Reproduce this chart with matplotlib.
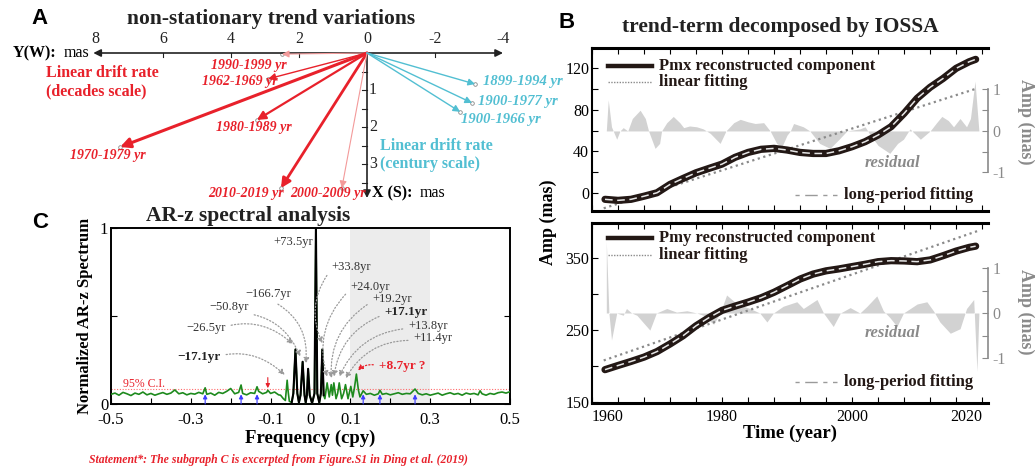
import numpy as np
import matplotlib
matplotlib.use('Agg')
import matplotlib.pyplot as plt

plt.rcParams['font.family'] = ['Liberation Serif', 'DejaVu Serif']
plt.rcParams['axes.unicode_minus'] = False

W, H = 1035, 468

# ---------------- data ----------------
# panel A: linear drift rate vectors, Y(W) and X(S) in mas
decade_periods = ['1990-1999 yr', '1962-1969 yr', '1980-1989 yr',
                  '1970-1979 yr', '2010-2019 yr', '2000-2009 yr']
decade_yw = [2.50, 2.91, 3.24, 7.26, 2.53, 0.74]
decade_xs = [0.03, 0.70, 1.81, 2.54, 3.65, 3.65]
century_periods = ['1899-1994 yr', '1900-1977 yr', '1900-1966 yr']
century_yw = [-3.18, -3.09, -2.74]
century_xs = [0.84, 1.35, 1.59]
yw_ticks = [8, 6, 4, 2, 0, -2, -4]
xs_ticks = [1, 2, 3]

# panel C: normalized AR-z spectrum
freq = [-0.50, -0.49, -0.48, -0.47, -0.46, -0.45, -0.44, -0.43, -0.42, -0.41,
        -0.40, -0.39, -0.38, -0.37, -0.36, -0.35, -0.34, -0.33, -0.32, -0.31,
        -0.30, -0.29, -0.28, -0.27, -0.264, -0.26, -0.25, -0.24, -0.23, -0.22,
        -0.21, -0.20, -0.19, -0.18, -0.174, -0.17, -0.16, -0.15, -0.14, -0.134,
        -0.13, -0.12, -0.11, -0.107, -0.10, -0.09, -0.08,
        -0.075, -0.068, -0.063, -0.061, -0.0585, -0.056, -0.053, -0.047, -0.043,
        -0.0377, -0.033, -0.029, -0.025, -0.0197, -0.015, -0.012, -0.009, -0.006,
        -0.002, 0.004, 0.010, 0.0136, 0.017, 0.022, 0.026, 0.0296, 0.033, 0.036,
        0.0417, 0.047, 0.052, 0.055, 0.0585, 0.064, 0.068, 0.072, 0.078, 0.083,
        0.0877, 0.094, 0.101, 0.106, 0.110, 0.115, 0.120, 0.124,
        0.132, 0.14, 0.15, 0.16, 0.17, 0.174, 0.18, 0.19, 0.20, 0.21,
        0.22, 0.23, 0.24, 0.25, 0.262, 0.27, 0.28, 0.29, 0.30, 0.31,
        0.32, 0.33, 0.34, 0.35, 0.36, 0.37, 0.38, 0.39, 0.40, 0.41,
        0.42, 0.425, 0.43, 0.44, 0.45, 0.46, 0.47, 0.48, 0.49, 0.50]
spec = [0.055, 0.062, 0.050, 0.066, 0.058, 0.048, 0.062, 0.055, 0.068, 0.052,
        0.060, 0.050, 0.058, 0.065, 0.055, 0.062, 0.080, 0.058, 0.064, 0.052,
        0.060, 0.056, 0.066, 0.058, 0.092, 0.055, 0.062, 0.050, 0.066, 0.060,
        0.072, 0.088, 0.058, 0.066, 0.108, 0.060, 0.052, 0.064, 0.060, 0.098,
        0.072, 0.058, 0.066, 0.078, 0.060, 0.068, 0.052,
        0.050, 0.030, 0.020, 0.070, 0.135, 0.070, 0.015, 0.010, 0.060,
        0.310, 0.060, 0.008, 0.050, 0.240, 0.050, 0.008, 0.050, 0.200,
        0.050, 0.005, 0.060, 1.000, 0.060, 0.008, 0.060, 0.310, 0.050, 0.030,
        0.120, 0.040, 0.110, 0.050, 0.120, 0.030, 0.060, 0.120, 0.030, 0.060,
        0.110, 0.030, 0.100, 0.040, 0.090, 0.170, 0.080, 0.040,
        0.075, 0.055, 0.060, 0.050, 0.058, 0.078, 0.055, 0.060, 0.052, 0.058,
        0.064, 0.055, 0.060, 0.058, 0.085, 0.060, 0.052, 0.058, 0.050, 0.056,
        0.062, 0.050, 0.058, 0.064, 0.055, 0.060, 0.050, 0.062, 0.056, 0.060,
        0.052, 0.075, 0.058, 0.050, 0.060, 0.055, 0.064, 0.068, 0.062, 0.070]
ci95 = 0.085
peak_labels = ['+73.5yr', '\u2212166.7yr', '\u221250.8yr', '\u221226.5yr', '\u221217.1yr',
               '+33.8yr', '+24.0yr', '+19.2yr', '+17.1yr', '+13.8yr', '+11.4yr']
peak_freq = [0.0136, -0.006, -0.0197, -0.0377, -0.0585,
             0.0296, 0.0417, 0.052, 0.0585, 0.072, 0.0877]
peak_top = [1.0, 0.20, 0.24, 0.31, 0.135, 0.31, 0.12, 0.11, 0.12, 0.12, 0.11]
extra_peak_freq = 0.115
extra_peak_top = 0.17
red_mark_freq = -0.107
blue_mark_freq = [-0.264, -0.174, -0.134, 0.132, 0.174, 0.262]

# panel B: IOSSA trend terms (mas)
years = [1962, 1964, 1966, 1968, 1970, 1972, 1974, 1976, 1978, 1980,
         1982, 1984, 1986, 1988, 1990, 1992, 1994, 1996, 1998, 2000,
         2002, 2004, 2006, 2008, 2010, 2012, 2014, 2016, 2018, 2019]
pmx = [-6.0, -7.0, -6.0, -3.0, 0.3, 8.3, 14.0, 19.5, 23.7, 27.8,
       34.3, 39.0, 42.0, 42.9, 41.3, 39.0, 38.0, 38.0, 40.6, 44.5,
       49.3, 55.7, 63.7, 76.5, 90.9, 101.5, 110.0, 119.7, 126.0, 128.3]
pmy = [195.2, 201.0, 206.6, 212.6, 220.3, 230.8, 242.2, 256.0, 267.4, 277.4,
       283.3, 288.8, 294.8, 302.5, 311.6, 320.8, 327.7, 332.2, 334.9, 338.1,
       341.3, 344.9, 346.3, 345.9, 344.9, 347.3, 353.2, 359.6, 364.7, 366.4]
lin_years = [1961.8, 2019.3]
pmx_lin = [-14.6, 100.6]
pmy_lin = [208.0, 387.4]

res_x_years = [1962.2, 1962.5, 1963.0, 1963.8, 1964.3, 1964.8, 1965.5, 1966.2, 1967.4, 1968.2,
               1968.7, 1969.7, 1970.4, 1970.7, 1971.5, 1972.5, 1973.5, 1974.1, 1975.0, 1976.1,
               1977.1, 1978.2, 1979.7, 1980.6, 1981.8, 1982.8, 1984.0, 1985.1, 1986.4, 1987.4,
               1988.4, 1989.2, 1990.0, 1990.5, 1991.0, 1992.5, 1993.5, 1995.0, 1996.6, 1998.0,
               1999.2, 2001.2, 2002.0, 2002.8, 2004.0, 2005.8, 2007.0, 2007.9, 2008.9, 2010.5,
               2012.0, 2013.0, 2013.8, 2014.8, 2015.6, 2016.6, 2017.6, 2018.2, 2018.9, 2019.5]
res_x = [0.0, 0.75, 0.1, -0.2, 0.0, 0.08, 0.0, 0.3, 0.5, 0.3,
         0.0, -0.42, -0.3, 0.0, 0.2, 0.35, 0.2, 0.08, 0.12, 0.1,
         0.05, -0.06, -0.3, 0.0, 0.2, 0.28, 0.22, 0.18, 0.2, 0.0,
         -0.3, -0.38, -0.1, 0.0, 0.18, 0.1, 0.0, -0.3, -0.42, -0.2,
         0.0, 0.05, 0.1, -0.1, -0.35, -0.54, -0.3, -0.2, 0.05, -0.2,
         0.0, 0.2, 0.35, 0.25, 0.1, 0.3, 0.1, 0.3, 1.2, 0.0]
res_y_years = [1962.2, 1962.6, 1963.0, 1963.8, 1964.8, 1965.3, 1966.1, 1966.9, 1968.9, 1969.9,
               1971.5, 1973.0, 1974.6, 1976.1, 1977.1, 1978.7, 1979.7, 1980.7, 1982.3, 1984.3,
               1985.8, 1986.9, 1987.9, 1989.4, 1991.5, 1992.5, 1994.6, 1995.6, 1997.1, 1998.2,
               1999.7, 2001.2, 2002.3, 2003.8, 2004.8, 2005.8, 2006.9, 2007.9, 2010.0, 2011.5,
               2012.5, 2013.5, 2015.1, 2016.6, 2017.6, 2018.7, 2019.2, 2019.5]
res_y = [1.6, 0.0, -0.6, 0.0, -0.05, 0.1, 0.0, -0.05, -0.38, 0.0,
         0.1, 0.02, 0.05, 0.0, -0.05, -0.25, 0.0, 0.4, 0.2, 0.1,
         0.0, -0.2, 0.0, 0.15, 0.25, 0.1, 0.3, 0.0, -0.3, 0.0,
         0.12, 0.0, 0.15, 0.38, 0.05, -0.1, -0.3, 0.0, 0.2, 0.25,
         0.05, -0.2, -0.45, -0.35, 0.1, 0.3, -1.3, 0.0]

RED = '#e8212b'
CYAN = '#52bfd2'
GREY = '#8a8a8a'

fig = plt.figure(figsize=(W / 100, H / 100), dpi=100)


def fx(px):
    return px / W


def fy(py):
    return 1 - py / H


# ---------------- panel A ----------------
def a_x(px):
    return (367 - px) / 34.0


def a_y(py):
    return (py - 53) / 37.0


ax_a = fig.add_axes([0, fy(200), fx(570), 200 / H])
ax_a.set_xlim(a_x(0), a_x(570))
ax_a.set_ylim(a_y(200), a_y(0))
ax_a.axis('off')

ax_a.annotate('', xy=(8.05, 0), xytext=(-4.0, 0),
              arrowprops=dict(arrowstyle='<|-|>', color='#222222', lw=1.2,
                              mutation_scale=11, shrinkA=0, shrinkB=0))
ax_a.annotate('', xy=(0, 3.92), xytext=(0, 0),
              arrowprops=dict(arrowstyle='-|>', color='#222222', lw=1.2,
                              mutation_scale=11, shrinkA=0, shrinkB=0))
for v in [6, 4, 2, -2]:
    ax_a.plot([v, v], [0, 0.1], color='#222222', lw=0.8)
for v in [0.5, 1, 1.5, 2, 2.5, 3, 3.5]:
    ax_a.plot([0, 0.14], [v, v], color='#222222', lw=0.8)
for v in yw_ticks:
    ax_a.text(v, a_y(39), str(v), ha='center', va='center', fontsize=11.5, color='#222222')
for v in xs_ticks:
    ax_a.text(a_x(369), v, str(v), ha='left', va='center', fontsize=11.5, color='#222222')

ax_a.text(a_x(13), 0, 'Y(W):', ha='left', va='center', fontsize=11.5, fontweight='bold')
ax_a.text(a_x(64), 0, 'mas', ha='left', va='center', fontsize=11.5)
ax_a.text(a_x(372), a_y(193), 'X (S):', ha='left', va='center', fontsize=11.5, fontweight='bold')
ax_a.text(a_x(420), a_y(193), 'mas', ha='left', va='center', fontsize=11.5)

decade_lw = [0.8, 1.0, 1.6, 2.2, 2.0, 0.8]
decade_col = ['#f39a9a', RED, RED, RED, RED, '#f39a9a']
decade_lbl = [(249, 65), (240, 82), (254, 127), (108, 155), (246, 193), (328, 193)]
for name, w, s, lw, c, (lx, ly) in zip(decade_periods, decade_yw, decade_xs,
                                       decade_lw, decade_col, decade_lbl):
    ax_a.annotate('', xy=(w, s), xytext=(0, 0),
                  arrowprops=dict(arrowstyle='-|>', color=c, lw=lw,
                                  mutation_scale=8 + 3 * lw, shrinkA=0, shrinkB=0))
    ax_a.plot(w, s, 'o', ms=2.6, mfc='none', mec='#888888', mew=0.6)
    ax_a.text(a_x(lx), a_y(ly), name, ha='center', va='center', fontsize=10,
              fontweight='bold', style='italic', color=RED)

century_lbl = [(523, 81), (518, 101), (501, 119)]
for name, w, s, (lx, ly) in zip(century_periods, century_yw, century_xs, century_lbl):
    ax_a.annotate('', xy=(w, s), xytext=(0, 0),
                  arrowprops=dict(arrowstyle='-|>', color=CYAN, lw=1.0,
                                  mutation_scale=10, shrinkA=0, shrinkB=0))
    ax_a.plot(w, s, 'o', ms=2.6, mfc='none', mec='#888888', mew=0.6)
    ax_a.text(a_x(lx), a_y(ly), name, ha='center', va='center', fontsize=10.5,
              fontweight='bold', style='italic', color=CYAN)

ax_a.text(a_x(46), a_y(82), 'Linear drift rate\n(decades scale)', ha='left', va='center',
          fontsize=11.5, fontweight='bold', color=RED, linespacing=1.2)
ax_a.text(a_x(380), a_y(155), 'Linear drift rate\n(century scale)', ha='left', va='center',
          fontsize=11.5, fontweight='bold', color=CYAN, linespacing=1.2)

fig.text(fx(40), fy(18), 'A', family='Liberation Sans', fontsize=16, fontweight='bold',
         ha='center', va='center')
fig.text(fx(271), fy(19), 'non-stationary trend variations', fontsize=15.5, fontweight='bold',
         ha='center', va='center', color='#222222')

# ---------------- panel C ----------------
ax_c = fig.add_axes([fx(111), fy(404), 399 / W, 176 / H])
freq_a = np.array(freq)
spec_a = np.array(spec)
ax_c.axvspan(0.1, 0.3, color='#ececec', zorder=0, lw=0)
ax_c.axhline(ci95, color='#ff6b6b', lw=0.8, ls=(0, (1, 1.5)), zorder=1)
ax_c.plot(freq_a, spec_a, color='#1d8a1d', lw=1.2, zorder=3)
core = (freq_a >= -0.047) & (freq_a <= 0.034)
ax_c.plot(freq_a[core], spec_a[core], color='black', lw=1.5, zorder=4)
ax_c.set_xlim(-0.5, 0.5)
ax_c.set_ylim(0, 1)
xt = [-0.5, -0.4, -0.3, -0.2, -0.1, 0, 0.1, 0.2, 0.3, 0.4, 0.5]
ax_c.set_xticks(xt)
ax_c.set_xticklabels(['-0.5', '', '-0.3', '', '-0.1', '0', '0.1', '', '0.3', '', '0.5'])
ax_c.set_yticks([0, 0.5, 1])
ax_c.set_yticklabels(['0', '', '1'])
ax_c.tick_params(direction='in', length=4, labelsize=12, right=True, pad=2)
ax_c.tick_params(axis='x', pad=6)
for sp in ax_c.spines.values():
    sp.set_linewidth(1.4)
ax_c.set_xlabel('Frequency (cpy)', fontsize=13.5, fontweight='bold', labelpad=1)
ax_c.set_ylabel('Normalized AR-z Spectrum', fontsize=12, fontweight='bold', labelpad=5)


def c_xy(px, py):
    return (px - 111) / 399.0 - 0.5, (404 - py) / 176.0


lbl_px = [(293, 242), (268, 294), (229, 307), (206, 328), (199, 357),
          (351, 267), (370, 287), (392, 299), (406, 312), (428, 326), (433, 338)]
for i, (lab, pf, pt, (lx, ly)) in enumerate(zip(peak_labels, peak_freq, peak_top, lbl_px)):
    bold = lab.endswith('17.1yr')
    tx, ty = c_xy(lx, ly)
    if i == 0:
        ax_c.text(tx, ty, lab, ha='center', va='center', fontsize=9, color='#333333')
        continue
    if pf < 0:
        tgt = (pf - 0.006, pt + 0.03)
        rel = (0.55, 0.0)
        rad = -0.35
    else:
        tgt = (pf, pt + 0.035)
        rel = (0.0, 0.3)
        rad = 0.3
    ax_c.annotate(lab, xy=tgt, xytext=(tx, ty), ha='center', va='center',
                  fontsize=9.5 if bold else 9, color='#222222' if bold else '#333333',
                  fontweight='bold' if bold else 'normal',
                  arrowprops=dict(arrowstyle='-|>', color='#9a9a9a', lw=0.9, ls=':',
                                  mutation_scale=8, relpos=rel, shrinkA=2, shrinkB=0,
                                  connectionstyle='arc3,rad=%s' % rad), zorder=5)

tx, ty = c_xy(402, 366)
ax_c.annotate('+8.7yr ?', xy=(extra_peak_freq + 0.003, extra_peak_top + 0.02), xytext=(tx, ty),
              ha='center', va='center', fontsize=9.5, fontweight='bold', color=RED,
              arrowprops=dict(arrowstyle='-|>', color=RED, lw=0.9, ls=':', mutation_scale=8,
                              relpos=(0, 0.5), shrinkA=2, shrinkB=0,
                              connectionstyle='arc3,rad=0.3'), zorder=5)
ax_c.annotate('', xy=(red_mark_freq, 0.09), xytext=(red_mark_freq, 0.15),
              arrowprops=dict(arrowstyle='-|>', color=RED, lw=0.8, mutation_scale=6,
                              shrinkA=0, shrinkB=0))
for bf in blue_mark_freq:
    ax_c.annotate('', xy=(bf, 0.055), xytext=(bf, 0.0),
                  arrowprops=dict(arrowstyle='-|>', color='#3b3bff', lw=0.8, mutation_scale=6,
                                  shrinkA=0, shrinkB=0), zorder=6)
tx, ty = c_xy(123, 384)
ax_c.text(tx, ty, '95% C.I.', ha='left', va='center', fontsize=8.5, color=RED)

fig.text(fx(40), fy(222), 'C', family='Liberation Sans', fontsize=16, fontweight='bold',
         ha='center', va='center')
fig.text(fx(248), fy(216), 'AR-z spectral analysis', fontsize=15.5, fontweight='bold',
         ha='center', va='center', color='#222222')
fig.text(fx(278), fy(460),
         'Statement*: The subgraph C is excerpted from Figure.S1 in Ding et al. (2019)',
         fontsize=8.5, fontweight='bold', style='italic', color=RED, ha='center', va='center')

# ---------------- panel B ----------------
def trend_panel(rect, comp, lin, res_t, res_v, ylim, yt, ytl, rlim, name, lab_rows, bottom):
    ax = fig.add_axes(rect)
    axr = ax.twinx()
    ax.set_zorder(axr.get_zorder() + 1)
    ax.patch.set_visible(False)

    axr.fill_between(res_t, 0, res_v, color='#d2d2d2', lw=0)
    axr.set_ylim(*rlim)
    for k in ['top', 'bottom', 'left']:
        axr.spines[k].set_visible(False)
    axr.spines['right'].set_bounds(-1, 1)
    axr.spines['right'].set_color(GREY)
    axr.spines['right'].set_linewidth(1.2)
    axr.set_yticks([-1, -0.5, 0, 0.5, 1])
    axr.set_yticklabels(['-1', '', '0', '', '1'])
    axr.tick_params(axis='y', direction='in', length=4, color=GREY, labelcolor=GREY,
                    labelsize=11.5, pad=3)

    ax.plot(lin_years, lin, color=GREY, lw=1.6, ls=(0, (1, 1.6)), zorder=2)
    ax.plot(years, comp, color='#231815', lw=5.2, solid_capstyle='round', zorder=3)
    ax.plot(years, comp, color='#e6e6e6', lw=1.1, ls=(0, (5, 3)), zorder=4)

    ax.set_xlim(1960, 2020.9)
    ax.set_ylim(*ylim)
    ax.set_yticks(yt)
    ax.set_yticklabels(ytl)
    ax.set_xticks(list(range(1960, 2021, 4)))
    ax.spines['right'].set_visible(False)
    ax.spines['top'].set_linewidth(2.2)
    ax.spines['bottom'].set_linewidth(2.2)
    ax.spines['left'].set_linewidth(1.5)
    ax.tick_params(direction='in', length=4, labelsize=11.5, top=True, pad=2)
    if bottom:
        labs = ['1960' if t == 1960 else str(t) if t in (1980, 2000, 2020) else ''
                for t in range(1960, 2021, 4)]
        ax.set_xticklabels(labs)
        tl = ax.get_xticklabels()
        tl[0].set_ha('left')
        tl[-1].set_ha('right')
        ax.tick_params(axis='x', pad=4)
        ax.set_xlabel('Time (year)', fontsize=13.5, fontweight='bold', labelpad=0)
    else:
        ax.set_xticklabels([])

    (y1, y2, yres, ylp) = lab_rows
    ax.plot([0.04, 0.152], [y1, y1], transform=ax.transAxes, color='#231815', lw=3.2)
    ax.text(0.168, y1, name + ' reconstructed component', transform=ax.transAxes,
            ha='left', va='center', fontsize=12, fontweight='bold', color='#231815')
    ax.plot([0.04, 0.152], [y2, y2], transform=ax.transAxes, color=GREY, lw=1.0,
            ls=(0, (1, 1)))
    ax.text(0.168, y2, 'linear fitting', transform=ax.transAxes,
            ha='left', va='center', fontsize=12, fontweight='bold', color='#231815')
    ax.text(0.76, yres, 'residual', transform=ax.transAxes, ha='center', va='center',
            fontsize=12, fontweight='bold', style='italic', color=GREY)
    ax.plot([0.513, 0.618], [ylp, ylp], transform=ax.transAxes, color='#9a9a9a', lw=1.0,
            ls=(0, (3, 4, 9, 4)))
    ax.text(0.636, ylp, 'long-period fitting', transform=ax.transAxes,
            ha='left', va='center', fontsize=12, fontweight='bold', color='#231815')
    return ax


trend_panel([fx(592), fy(211), 396 / W, 163 / H], pmx, pmx_lin, res_x_years, res_x,
            (-17.2, 139.2), [0, 20, 40, 60, 80, 100, 120], ['0', '', '40', '', '80', '', '120'],
            (-1.93, 2.0), 'Pmx', (0.89, 0.79, 0.295, 0.098), False)
trend_panel([fx(592), fy(403), 396 / W, 180 / H], pmy, pmy_lin, res_y_years, res_y,
            (149, 398.5), [150, 200, 250, 300, 350], ['150', '', '250', '', '350'],
            (-2.0, 2.0), 'Pmy', (0.917, 0.822, 0.389, 0.117), True)

fig.text(fx(548), fy(222), 'Amp (mas)', rotation=90, fontsize=13, fontweight='bold',
         ha='center', va='center')
fig.text(fx(1026), fy(122), 'Amp (mas)', rotation=270, fontsize=13, fontweight='bold',
         ha='center', va='center', color=GREY)
fig.text(fx(1026), fy(312), 'Amp (mas)', rotation=270, fontsize=13, fontweight='bold',
         ha='center', va='center', color=GREY)
fig.text(fx(567), fy(22), 'B', family='Liberation Sans', fontsize=16, fontweight='bold',
         ha='center', va='center')
fig.text(fx(780), fy(27), 'trend-term decomposed by IOSSA', fontsize=15.5, fontweight='bold',
         ha='center', va='center', color='#222222')

fig.savefig('out.png', dpi=100)
